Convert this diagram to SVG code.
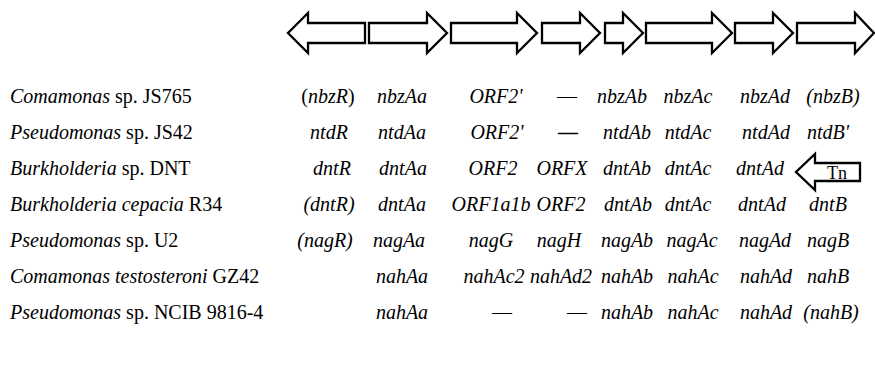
<svg xmlns="http://www.w3.org/2000/svg" width="875" height="369" viewBox="0 0 875 369" font-family="'Liberation Serif', 'Times New Roman', serif">
<style>
  text { font-family: 'Liberation Serif', 'Times New Roman', serif; font-size: 20px; fill: #000; }
  .sp { font-style: italic; }
  .g { font-style: italic; text-anchor: middle; }
  .d { text-anchor: middle; }
  .bd { text-anchor: middle; font-weight: bold; }
  .arrow { fill: #fff; stroke: #000; stroke-width: 2.3; stroke-linejoin: miter; }
  .tn { font-size: 18px; text-anchor: middle; }
</style>
<rect width="875" height="369" fill="#fff"/>
<g id="gene-arrows">
  <path class="arrow" d="M365,23 H308 V13 L288,33 L308,53 V43 H365 Z"/>
  <path class="arrow" d="M369,23 H427 V13 L447,33 L427,53 V43 H369 Z"/>
  <path class="arrow" d="M451,23 H517 V13 L537,33 L517,53 V43 H451 Z"/>
  <path class="arrow" d="M542,23 H580 V13 L600,33 L580,53 V43 H542 Z"/>
  <path class="arrow" d="M605,23 H623 V13 L643,33 L623,53 V43 H605 Z"/>
  <path class="arrow" d="M646,23 H712 V13 L732,33 L712,53 V43 H646 Z"/>
  <path class="arrow" d="M735,23 H773 V13 L793,33 L773,53 V43 H735 Z"/>
  <path class="arrow" d="M797,23 H855 V13 L874,33 L855,53 V43 H797 Z"/>
</g>
<g id="row1">
  <text x="10" y="103"><tspan class="sp">Comamonas</tspan> sp. JS765</text>
  <text x="328" y="103" text-anchor="middle">(<tspan class="sp">nbzR</tspan>)</text>
  <text class="g" x="402" y="103">nbzAa</text>
  <text class="g" x="496" y="103">ORF2'</text>
  <text class="d" x="567" y="103">—</text>
  <text class="g" x="622" y="103">nbzAb</text>
  <text class="g" x="688" y="103">nbzAc</text>
  <text class="g" x="765" y="103">nbzAd</text>
  <text class="g" x="833" y="103">(nbzB)</text>
</g>
<g id="row2">
  <text x="10" y="139"><tspan class="sp">Pseudomonas</tspan> sp. JS42</text>
  <text class="g" x="329" y="139">ntdR</text>
  <text class="g" x="402" y="139">ntdAa</text>
  <text class="g" x="497" y="139">ORF2'</text>
  <text class="bd" x="568" y="139">—</text>
  <text class="g" x="627" y="139">ntdAb</text>
  <text class="g" x="688" y="139">ntdAc</text>
  <text class="g" x="766" y="139">ntdAd</text>
  <text class="g" x="828" y="139">ntdB'</text>
</g>
<g id="row3">
  <text x="10" y="175"><tspan class="sp">Burkholderia</tspan> sp. DNT</text>
  <text class="g" x="332" y="175">dntR</text>
  <text class="g" x="403" y="175">dntAa</text>
  <text class="g" x="493" y="175">ORF2</text>
  <text class="g" x="562" y="175">ORFX</text>
  <text class="g" x="627" y="175">dntAb</text>
  <text class="g" x="688" y="175">dntAc</text>
  <text class="g" x="760" y="175">dntAd</text>
</g>
<g id="tn">
  <path class="arrow" d="M860,163 H815 V154 L796,172 L815,190 V181 H860 Z"/>
  <text class="tn" x="837" y="179">Tn</text>
</g>
<g id="row4">
  <text x="10" y="211"><tspan class="sp">Burkholderia cepacia</tspan> R34</text>
  <text class="g" x="329" y="211">(dntR)</text>
  <text class="g" x="402" y="211">dntAa</text>
  <text class="g" x="491" y="211">ORF1a1b</text>
  <text class="g" x="561" y="211">ORF2</text>
  <text class="g" x="628" y="211">dntAb</text>
  <text class="g" x="688" y="211">dntAc</text>
  <text class="g" x="762" y="211">dntAd</text>
  <text class="g" x="828" y="211">dntB</text>
</g>
<g id="row5">
  <text x="10" y="247"><tspan class="sp">Pseudomonas</tspan> sp. U2</text>
  <text class="g" x="325" y="247">(nagR)</text>
  <text class="g" x="399" y="247">nagAa</text>
  <text class="g" x="491" y="247">nagG</text>
  <text class="g" x="559" y="247">nagH</text>
  <text class="g" x="627" y="247">nagAb</text>
  <text class="g" x="692" y="247">nagAc</text>
  <text class="g" x="765" y="247">nagAd</text>
  <text class="g" x="828" y="247">nagB</text>
</g>
<g id="row6">
  <text x="10" y="283"><tspan class="sp">Comamonas testosteroni</tspan> GZ42</text>
  <text class="g" x="402" y="283">nahAa</text>
  <text class="g" x="494" y="283">nahAc2</text>
  <text class="g" x="561" y="283">nahAd2</text>
  <text class="g" x="627" y="283">nahAb</text>
  <text class="g" x="693" y="283">nahAc</text>
  <text class="g" x="766" y="283">nahAd</text>
  <text class="g" x="828" y="283">nahB</text>
</g>
<g id="row7">
  <text x="10" y="319"><tspan class="sp">Pseudomonas</tspan> sp. NCIB 9816-4</text>
  <text class="g" x="402" y="319">nahAa</text>
  <text class="d" x="502" y="319">—</text>
  <text class="d" x="577" y="319">—</text>
  <text class="g" x="627" y="319">nahAb</text>
  <text class="g" x="693" y="319">nahAc</text>
  <text class="g" x="766" y="319">nahAd</text>
  <text class="g" x="831" y="319">(nahB)</text>
</g>
</svg>
